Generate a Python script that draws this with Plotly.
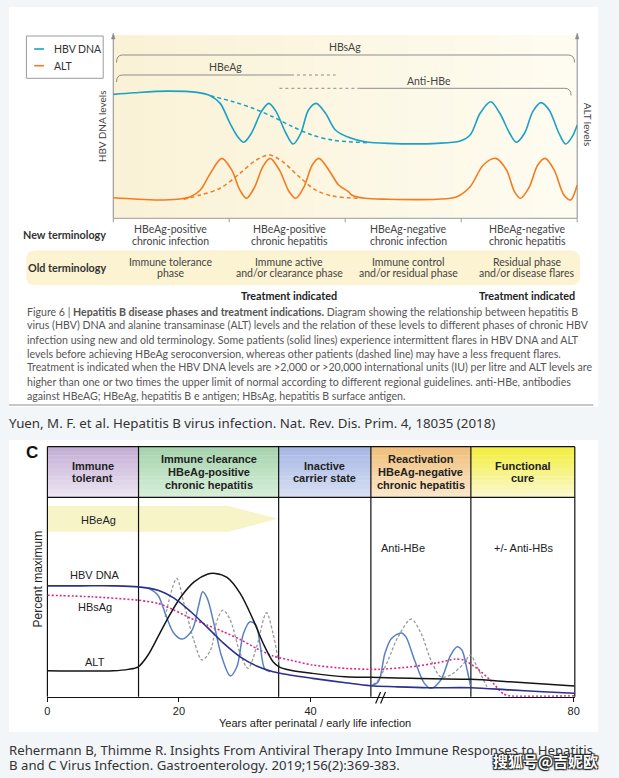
import plotly.graph_objects as go

W, H = 619, 778

# ---------------- data: top panel (Yuen et al.) ----------------
# phase axis 0..4 (four phases), levels in % of panel height
top_t_dna = [0, 0.184, 0.468, 0.723, 0.837, 0.922, 1.007, 1.077, 1.126, 1.191, 1.277, 1.341, 1.404, 1.489,
             1.551, 1.617, 1.683, 1.750, 1.830, 1.915, 2.028, 2.170, 2.369, 2.794, 2.992, 3.077, 3.163, 3.254,
             3.333, 3.418, 3.475, 3.546, 3.617, 3.688, 3.758, 3.843, 3.900, 3.957, 4.0]
top_dna = [67.6, 68.5, 69.4, 68.7, 66.9, 62.7, 51.8, 44.2, 41.5, 46.4, 58.2, 62.7, 58.2, 46.4,
           40.5, 46.4, 59.1, 62.7, 57.3, 48.2, 44.2, 41.8, 40.9, 40.9, 42.2, 45.4, 57.3, 63.6,
           57.3, 46.4, 41.5, 46.4, 58.2, 63.1, 59.1, 46.4, 40.5, 44.5, 50.9]
top_t_dna_dash = [0.837, 1.035, 1.205, 1.375, 1.546, 1.716, 1.886, 2.028, 2.2]
top_dna_dash = [66.9, 63.6, 60.0, 55.4, 50.0, 45.4, 42.7, 41.8, 41.2]

top_t_alt = [0, 0.184, 0.383, 0.553, 0.666, 0.751, 0.837, 0.936, 1.021, 1.092, 1.149, 1.220, 1.290, 1.353,
             1.432, 1.517, 1.574, 1.645, 1.716, 1.773, 1.858, 1.943, 2.028, 2.056, 2.170, 2.369, 2.794,
             2.964, 3.077, 3.191, 3.299, 3.390, 3.460, 3.511, 3.588, 3.660, 3.724, 3.801, 3.886, 3.943, 4.0]
top_alt = [11.2, 10.5, 10.0, 10.4, 11.8, 15.4, 24.5, 32.7, 26.4, 15.4, 10.9, 17.2, 28.2, 32.7,
           26.4, 14.5, 10.9, 17.2, 29.1, 32.7, 26.4, 18.2, 14.5, 12.7, 10.9, 10.4, 10.4,
           11.8, 17.2, 29.1, 32.7, 26.4, 14.5, 10.9, 17.2, 29.1, 32.7, 26.4, 12.7, 10.0, 18.2]
top_t_alt_dash = [0.607, 0.751, 0.922, 1.092, 1.234, 1.347, 1.460, 1.602, 1.745, 1.886, 2.028, 2.113]
top_alt_dash = [10.4, 12.7, 16.4, 24.5, 31.8, 34.5, 30.9, 22.7, 15.4, 12.2, 11.2, 10.9]

new_terms = [["HBeAg-positive", "chronic infection"], ["HBeAg-positive", "chronic hepatitis"],
             ["HBeAg-negative", "chronic infection"], ["HBeAg-negative", "chronic hepatitis"]]
old_terms = [["Immune tolerance", "phase"], ["Immune active", "and/or clearance phase"],
             ["Immune control", "and/or residual phase"], ["Residual phase", "and/or disease flares"]]
term_x = [170, 290, 410.5, 531]

caption_lines = [
    "Figure 6 | <b>Hepatitis B disease phases and treatment indications.</b> Diagram showing the relationship between hepatitis B",
    "virus (HBV) DNA and alanine transaminase (ALT) levels and the relation of these levels to different phases of chronic HBV",
    "infection using new and old terminology. Some patients (solid lines) experience intermittent flares in HBV DNA and ALT",
    "levels before achieving HBeAg seroconversion, whereas other patients (dashed line) may have a less frequent flares.",
    "Treatment is indicated when the HBV DNA levels are &gt;2,000 or &gt;20,000 international units (IU) per litre and ALT levels are",
    "higher than one or two times the upper limit of normal according to different regional guidelines. anti-HBe, antibodies",
    "against HBeAG; HBeAg, hepatitis B e antigen; HBsAg, hepatitis B surface antigen.",
]

# ---------------- data: bottom panel (Rehermann & Thimme) ----------------
yrs_dna = [0, 5, 10, 13.8, 16.8, 19.3, 21.8, 24.3, 26.8, 29.3, 31.8, 34.3, 36.8, 40.3, 45.3, 49.1, 52.8,
           57.8, 64.4, 70.3, 75.3, 80.1]
pct_dna = [55.6, 55.6, 55.6, 55.1, 53.4, 49.3, 42.6, 34.8, 26.7, 20.0, 15.4, 12.5, 10.9, 9.2, 7.0, 5.5, 5.0,
           4.5, 4.5, 3.4, 2.5, 1.7]
yrs_alt = [0, 10, 12.3, 13.8, 15.3, 16.8, 18.3, 20.3, 22.3, 24.3, 25.5, 27.3, 29.3, 31.3, 32.8, 34.3, 35.2,
           36.8, 40.3, 45.3, 49.1, 55.2, 64.4, 70.3, 80.1]
pct_alt = [13.0, 13.0, 13.7, 15.0, 20.9, 30.0, 39.3, 50.1, 57.6, 61.4, 61.8, 59.8, 51.8, 38.4, 26.7, 17.5, 15.0,
           13.4, 11.7, 10.0, 9.7, 9.2, 8.7, 7.5, 5.4]
yrs_flare = [15.3, 16.8, 18.0, 19.25, 20.5, 22.0, 23.0, 23.6, 24.3, 25.3, 26.5, 27.8, 28.8, 29.8, 30.8, 31.7,
             32.3, 33.0, 33.8, None, 49.1, 50.3, 51.3, 52.3, 53.8, 54.5, 55.8, 57.3, 58.3, 59.8, 61.3, 62.3,
             63.0, 63.8, 64.3]
pct_flare = [54.6, 50.9, 40.9, 31.7, 28.9, 33.4, 45.9, 52.6, 49.3, 36.8, 20.0, 10.4, 15.0, 31.7, 37.6, 35.9,
             26.7, 14.2, 12.5, None, 5.5, 7.5, 21.7, 29.2, 32.0, 30.0, 18.4, 6.7, 4.2, 8.4, 20.9, 25.0,
             23.4, 13.4, 5.5]
yrs_alt2 = [17.9, 19.65, 20.75, 22.25, 23.5, 24.8, 25.8, 26.7, 27.8, 29.3, 30.5, 31.8, 33.3, 34.3, 35.0, 35.3,
            None, 49.5, 50.3, 51.8, 53.3, 55.3, 56.8, 58.3, 59.8, 61.3, 63.3, 64.3, 65.3, 66.8]
pct_alt2 = [40.0, 59.3, 46.8, 28.4, 18.4, 23.4, 38.4, 43.4, 38.4, 21.7, 14.2, 25.0, 42.1, 31.7, 20.0, 15.0,
            None, 6.0, 8.4, 18.4, 30.0, 38.9, 31.7, 18.4, 10.0, 10.9, 16.7, 20.9, 15.0, 5.0]
yrs_hbsag = [0, 6.8, 13.8, 16.8, 19.3, 21.8, 24.3, 26.8, 29.3, 31.8, 34.3, 36.8, 40.3, 45.3, 50.3, 55.3,
             59.3, 62.0, 63.3, 65.3, 67.3, 69.3, 70.3, 80.1]
pct_hbsag = [50.9, 50.1, 48.4, 46.8, 43.4, 39.3, 35.9, 32.5, 28.7, 24.2, 20.4, 18.4, 15.9, 14.2, 13.7, 15.0,
             17.0, 18.9, 18.4, 14.2, 8.4, 1.4, 0.4, 0.4]

phase_bounds = [0, 13.85, 35.15, 49.17, 64.37, 80.17]
phase_names = ["Immune<br>tolerant", "Immune clearance<br>HBeAg-positive<br>chronic hepatitis",
               "Inactive<br>carrier state", "Reactivation<br>HBeAg-negative<br>chronic hepatitis",
               "Functional<br>cure"]
phase_top = ["#c4aed6", "#a6d4ae", "#a8b8e4", "#f0c07c", "#f3ee40"]
phase_bot = ["#ece4f2", "#d6eed8", "#d6def3", "#fae6c8", "#fbf8cc"]
x_ticks = [0, 20, 40, 80]

# ---------------- helpers ----------------
def X(x):
    return x / W


def Y(y):
    return 1 - y / H


shapes = []
ann = []


def rect(x0, y0, x1, y1, fill, line=None, lw=0, layer="below"):
    shapes.append(dict(type="rect", xref="paper", yref="paper", x0=X(x0), x1=X(x1), y0=Y(y1), y1=Y(y0),
                       fillcolor=fill, line=dict(color=line or fill, width=lw), layer=layer))


def seg(x0, y0, x1, y1, color, width=1, dash=None, layer="below"):
    d = dict(color=color, width=width)
    if dash:
        d["dash"] = dash
    shapes.append(dict(type="line", xref="paper", yref="paper", x0=X(x0), x1=X(x1), y0=Y(y0), y1=Y(y1),
                       line=d, layer=layer))


def path(pts, color, width=1, fill=None, layer="below"):
    shapes.append(dict(type="path", xref="paper", yref="paper", path=pts, layer=layer,
                       line=dict(color=color, width=width), fillcolor=fill or "rgba(0,0,0,0)"))


def P(x, y):
    return f"{X(x):.5f},{Y(y):.5f}"


def txt(x, y, s, size, color="#333", family="Lato", xanchor="center", angle=0, **fontkw):
    f = dict(size=size, color=color, family=family)
    f.update(fontkw)
    ann.append(dict(xref="paper", yref="paper", x=X(x), y=Y(y), text=s, showarrow=False,
                    xanchor=xanchor, yanchor="middle", textangle=angle, font=f, align="center"))


def mix(c1, c2, t):
    a = [int(c1[i:i + 2], 16) for i in (1, 3, 5)]
    b = [int(c2[i:i + 2], 16) for i in (1, 3, 5)]
    return "rgb(%d,%d,%d)" % tuple(round(a[k] + (b[k] - a[k]) * t) for k in range(3))


# ---------------- panels ----------------
rect(6, 7, 603, 407, "#ffffff")
rect(6, 440, 603, 732, "#ffffff")

# cream gradient of top plot
tx0, tx1, ty0, ty1 = 111.7, 581.7, 35, 218.3
n = 30
for i in range(n):
    a = tx0 + (tx1 - tx0) * i / n
    b = tx0 + (tx1 - tx0) * (i + 1) / n + 0.5
    rect(a, ty0, min(b, tx1), ty1, mix("#faf2d6", "#fefcf1", i / (n - 1)))

# top plot axes
seg(tx0, ty1, tx0, ty0 + 2, "#8a8a8a", 1)
seg(tx1, ty1, tx1, ty0 + 2, "#8a8a8a", 1)
path("M" + P(tx0 - 1.8, 39) + " L" + P(tx0, 33) + " L" + P(tx0 + 1.8, 39) + " Z", "#8a8a8a", 0.5, "#8a8a8a")
path("M" + P(tx1 - 1.8, 39) + " L" + P(tx1, 33) + " L" + P(tx1 + 1.8, 39) + " Z", "#8a8a8a", 0.5, "#8a8a8a")
seg(tx0, ty1, tx1, ty1, "#9a9a9a", 1)
for k in range(5):
    xx = tx0 + (tx1 - tx0) * k / 4
    seg(xx, ty1, xx, ty1 + 4, "#9a9a9a", 1)

# legend box
rect(23.7, 36, 101.5, 78.3, "#ffffff", "#9a9a9a", 1)
seg(31.6, 49, 41.5, 49, "#1ba1c6", 1.6)
seg(31.6, 65.7, 41.5, 65.7, "#f47b20", 1.6)
txt(49.3, 49, "HBV DNA", 10.5, "#333", xanchor="left")
txt(49.3, 65.7, "ALT", 10.5, "#333", xanchor="left")

# brackets
g = "#8c8c8c"
path("M" + P(115, 62.5) + " Q" + P(115, 55) + " " + P(121, 55) + " L" + P(572.5, 55) + " Q" + P(579, 55) + " " + P(579, 62.5), g, 1)
path("M" + P(115, 82) + " Q" + P(115, 75) + " " + P(121, 75) + " L" + P(291.7, 75), g, 1)
seg(291.7, 75, 337, 75, g, 1, "3px,3px")
seg(280, 88.3, 360, 88.3, g, 1, "3px,3px")
path("M" + P(360, 88.3) + " L" + P(569, 88.3) + " Q" + P(575.5, 88.3) + " " + P(575.5, 95.5), g, 1)
txt(346.7, 47.5, "HBsAg", 10.5, "#444")
txt(225, 67, "HBeAg", 10.5, "#444")
txt(431.7, 81, "Anti-HBe", 10.5, "#444")
txt(100.5, 126, "HBV DNA levels", 10, "#444", angle=-90)
txt(593, 125, "ALT levels", 10, "#444", angle=90)

# terminology rows
txt(106, 235, "<b>New terminology</b>", 10.8, "#333", xanchor="right")
r = 9
x0, x1, y0, y1 = 23.7, 584.3, 250.7, 285
path("M" + P(x0 + r, y0) + " L" + P(x1 - r, y0) + " Q" + P(x1, y0) + " " + P(x1, y0 + r) + " L" + P(x1, y1 - r) +
     " Q" + P(x1, y1) + " " + P(x1 - r, y1) + " L" + P(x0 + r, y1) + " Q" + P(x0, y1) + " " + P(x0, y1 - r) +
     " L" + P(x0, y0 + r) + " Q" + P(x0, y0) + " " + P(x0 + r, y0) + " Z", "#fbf3d2", 0.5, "#fbf3d2")
txt(106, 267.5, "<b>Old terminology</b>", 10.8, "#333", xanchor="right")
for cx, nt, ot in zip(term_x, new_terms, old_terms):
    txt(cx, 229, nt[0], 10.5, "#444")
    txt(cx, 240.5, nt[1], 10.5, "#444")
    txt(cx, 261.7, ot[0], 10.5, "#444")
    txt(cx, 273.3, ot[1], 10.5, "#444")
txt(290, 295, "<b>Treatment indicated</b>", 10.8, "#222")
txt(531, 295, "<b>Treatment indicated</b>", 10.8, "#222")

for i, line in enumerate(caption_lines):
    txt(22, 311.5 + 14 * i, line, 10.6, "#555", xanchor="left")
seg(6, 405, 598, 405, "#8f8f8f", 1)
txt(4, 422.5, "Yuen, M. F. et al. Hepatitis B virus infection. Nat. Rev. Dis. Prim. 4, 18035 (2018)", 13.3,
    "#333", family="Noto Sans", xanchor="left")

# ---------------- bottom chart decorations ----------------
bx0, bx1 = 45, 579.3
hy0, hy1, by1 = 446.7, 497.3, 696.7
ppy = (bx1 - bx0) / phase_bounds[-1]


def bxp(yr):
    return bx0 + yr * ppy


for i in range(5):
    a, b = bxp(phase_bounds[i]), bxp(phase_bounds[i + 1])
    m = 12
    for k in range(m):
        ya = hy0 + (hy1 - hy0) * k / m
        yb = hy0 + (hy1 - hy0) * (k + 1) / m + 0.4
        rect(a, ya, b, min(yb, hy1), mix(phase_top[i], phase_bot[i], k / (m - 1)))
    lines = phase_names[i].split("<br>")
    nl = len(lines)
    for j, s in enumerate(lines):
        yy = (hy0 + hy1) / 2 + (j - (nl - 1) / 2) * 12.8
        txt((a + b) / 2, yy, "<b>" + s + "</b>", 11, "#222", family="Liberation Sans")

# HBeAg arrow
path("M" + P(45, 506) + " L" + P(228.3, 506) + " L" + P(278.3, 518.8) + " L" + P(228.3, 531.7) + " L" +
     P(45, 531.7) + " Z", "#f7f5c8", 0.1, "#f7f5c8")
txt(96.7, 519.5, "HBeAg", 11, "#222", family="Liberation Sans")

# frame lines
k = "#111111"
seg(bx0, hy0, bx1, hy0, k, 1.3)
seg(bx0, hy1, bx1, hy1, k, 1.3)
for yb in phase_bounds:
    seg(bxp(yb), hy0, bxp(yb), by1, k, 1.2)
# axis break marks
seg(377.5, 703.5, 382.5, 692, k, 1.2, layer="above")
seg(382.5, 703.5, 387.5, 692, k, 1.2, layer="above")

txt(405, 547.5, "Anti-HBe", 11, "#222", family="Liberation Sans")
txt(527.5, 547.5, "+/- Anti-HBs", 11, "#222", family="Liberation Sans")
txt(93.3, 574.5, "HBV DNA", 11, "#222", family="Liberation Sans")
txt(93.3, 606.7, "HBsAg", 11, "#222", family="Liberation Sans")
txt(93.3, 662.3, "ALT", 11, "#222", family="Liberation Sans")
txt(35, 579, "Percent maximum", 12, "#222", family="Liberation Sans", angle=-90)
txt(316, 722.7, "Years after perinatal / early life infection", 11, "#222", family="Liberation Sans")
txt(29, 452, "<b>C</b>", 17, "#111", family="Liberation Sans")

txt(4, 750, "Rehermann B, Thimme R. Insights From Antiviral Therapy Into Immune Responses to Hepatitis", 13.2,
    "#333", family="Noto Sans", xanchor="left")
txt(4, 764.5, "B and C Virus Infection. Gastroenterology. 2019;156(2):369-383.", 13.2,
    "#333", family="Noto Sans", xanchor="left")
txt(550, 760, "<b>搜狐号@吉妮欧</b>", 15, "#ffffff", family="Noto Sans CJK SC",
    shadow="1px 1px 1px #222, -1px -1px 1px #222, 1px -1px 1px #222, -1px 1px 1px #222")

# ---------------- traces ----------------
fig = go.Figure()
sm = 0.9
fig.add_trace(go.Scatter(x=top_t_dna_dash, y=top_dna_dash, mode="lines", xaxis="x", yaxis="y",
                         line=dict(color="#1ba1c6", width=1.5, dash="4px,3px", shape="spline", smoothing=sm)))
fig.add_trace(go.Scatter(x=top_t_alt_dash, y=top_alt_dash, mode="lines", xaxis="x", yaxis="y",
                         line=dict(color="#f47b20", width=1.5, dash="4px,3px", shape="spline", smoothing=sm)))
fig.add_trace(go.Scatter(x=top_t_dna, y=top_dna, mode="lines", xaxis="x", yaxis="y",
                         line=dict(color="#1ba1c6", width=1.6, shape="spline", smoothing=sm)))
fig.add_trace(go.Scatter(x=top_t_alt, y=top_alt, mode="lines", xaxis="x", yaxis="y",
                         line=dict(color="#f47b20", width=1.6, shape="spline", smoothing=sm)))

fig.add_trace(go.Scatter(x=yrs_alt2, y=pct_alt2, mode="lines", xaxis="x2", yaxis="y2",
                         line=dict(color="#9a9a9a", width=1.3, dash="3px,2px", shape="spline", smoothing=sm)))
fig.add_trace(go.Scatter(x=yrs_hbsag, y=pct_hbsag, mode="lines", xaxis="x2", yaxis="y2",
                         line=dict(color="#e0248e", width=1.6, dash="2px,2px", shape="spline", smoothing=0.6)))
fig.add_trace(go.Scatter(x=yrs_flare, y=pct_flare, mode="lines", xaxis="x2", yaxis="y2",
                         line=dict(color="#5b80c2", width=1.5, shape="spline", smoothing=sm)))
fig.add_trace(go.Scatter(x=yrs_alt, y=pct_alt, mode="lines", xaxis="x2", yaxis="y2",
                         line=dict(color="#151515", width=1.5, shape="spline", smoothing=sm)))
fig.add_trace(go.Scatter(x=yrs_dna, y=pct_dna, mode="lines", xaxis="x2", yaxis="y2",
                         line=dict(color="#2c2f8f", width=1.6, shape="spline", smoothing=sm)))

fig.update_layout(
    width=W, height=H, autosize=False, margin=dict(l=0, r=0, t=0, b=0),
    paper_bgcolor="#f3f6f9", plot_bgcolor="rgba(0,0,0,0)", showlegend=False,
    xaxis=dict(domain=[X(tx0), X(tx1)], range=[0, 4], visible=False, fixedrange=True),
    yaxis=dict(domain=[Y(ty1), Y(ty0)], range=[0, 100], visible=False, fixedrange=True),
    xaxis2=dict(domain=[X(bx0), X(bx1)], range=[0, phase_bounds[-1]], anchor="y2", showgrid=False,
                zeroline=False, showline=True, linecolor="#111", linewidth=1.3, ticks="outside",
                ticklen=4, tickcolor="#111", tickvals=x_ticks, ticktext=[str(v) for v in x_ticks],
                tickfont=dict(family="Liberation Sans", size=11, color="#222")),
    yaxis2=dict(domain=[Y(by1), Y(hy1)], range=[0, 100], anchor="x2", visible=False),
    shapes=shapes, annotations=ann,
)
fig.write_html("out.html", config={"displayModeBar": False},
               post_script="document.body.style.margin='0';document.body.style.padding='0';"
                           "document.documentElement.style.background='#f3f6f9';")
